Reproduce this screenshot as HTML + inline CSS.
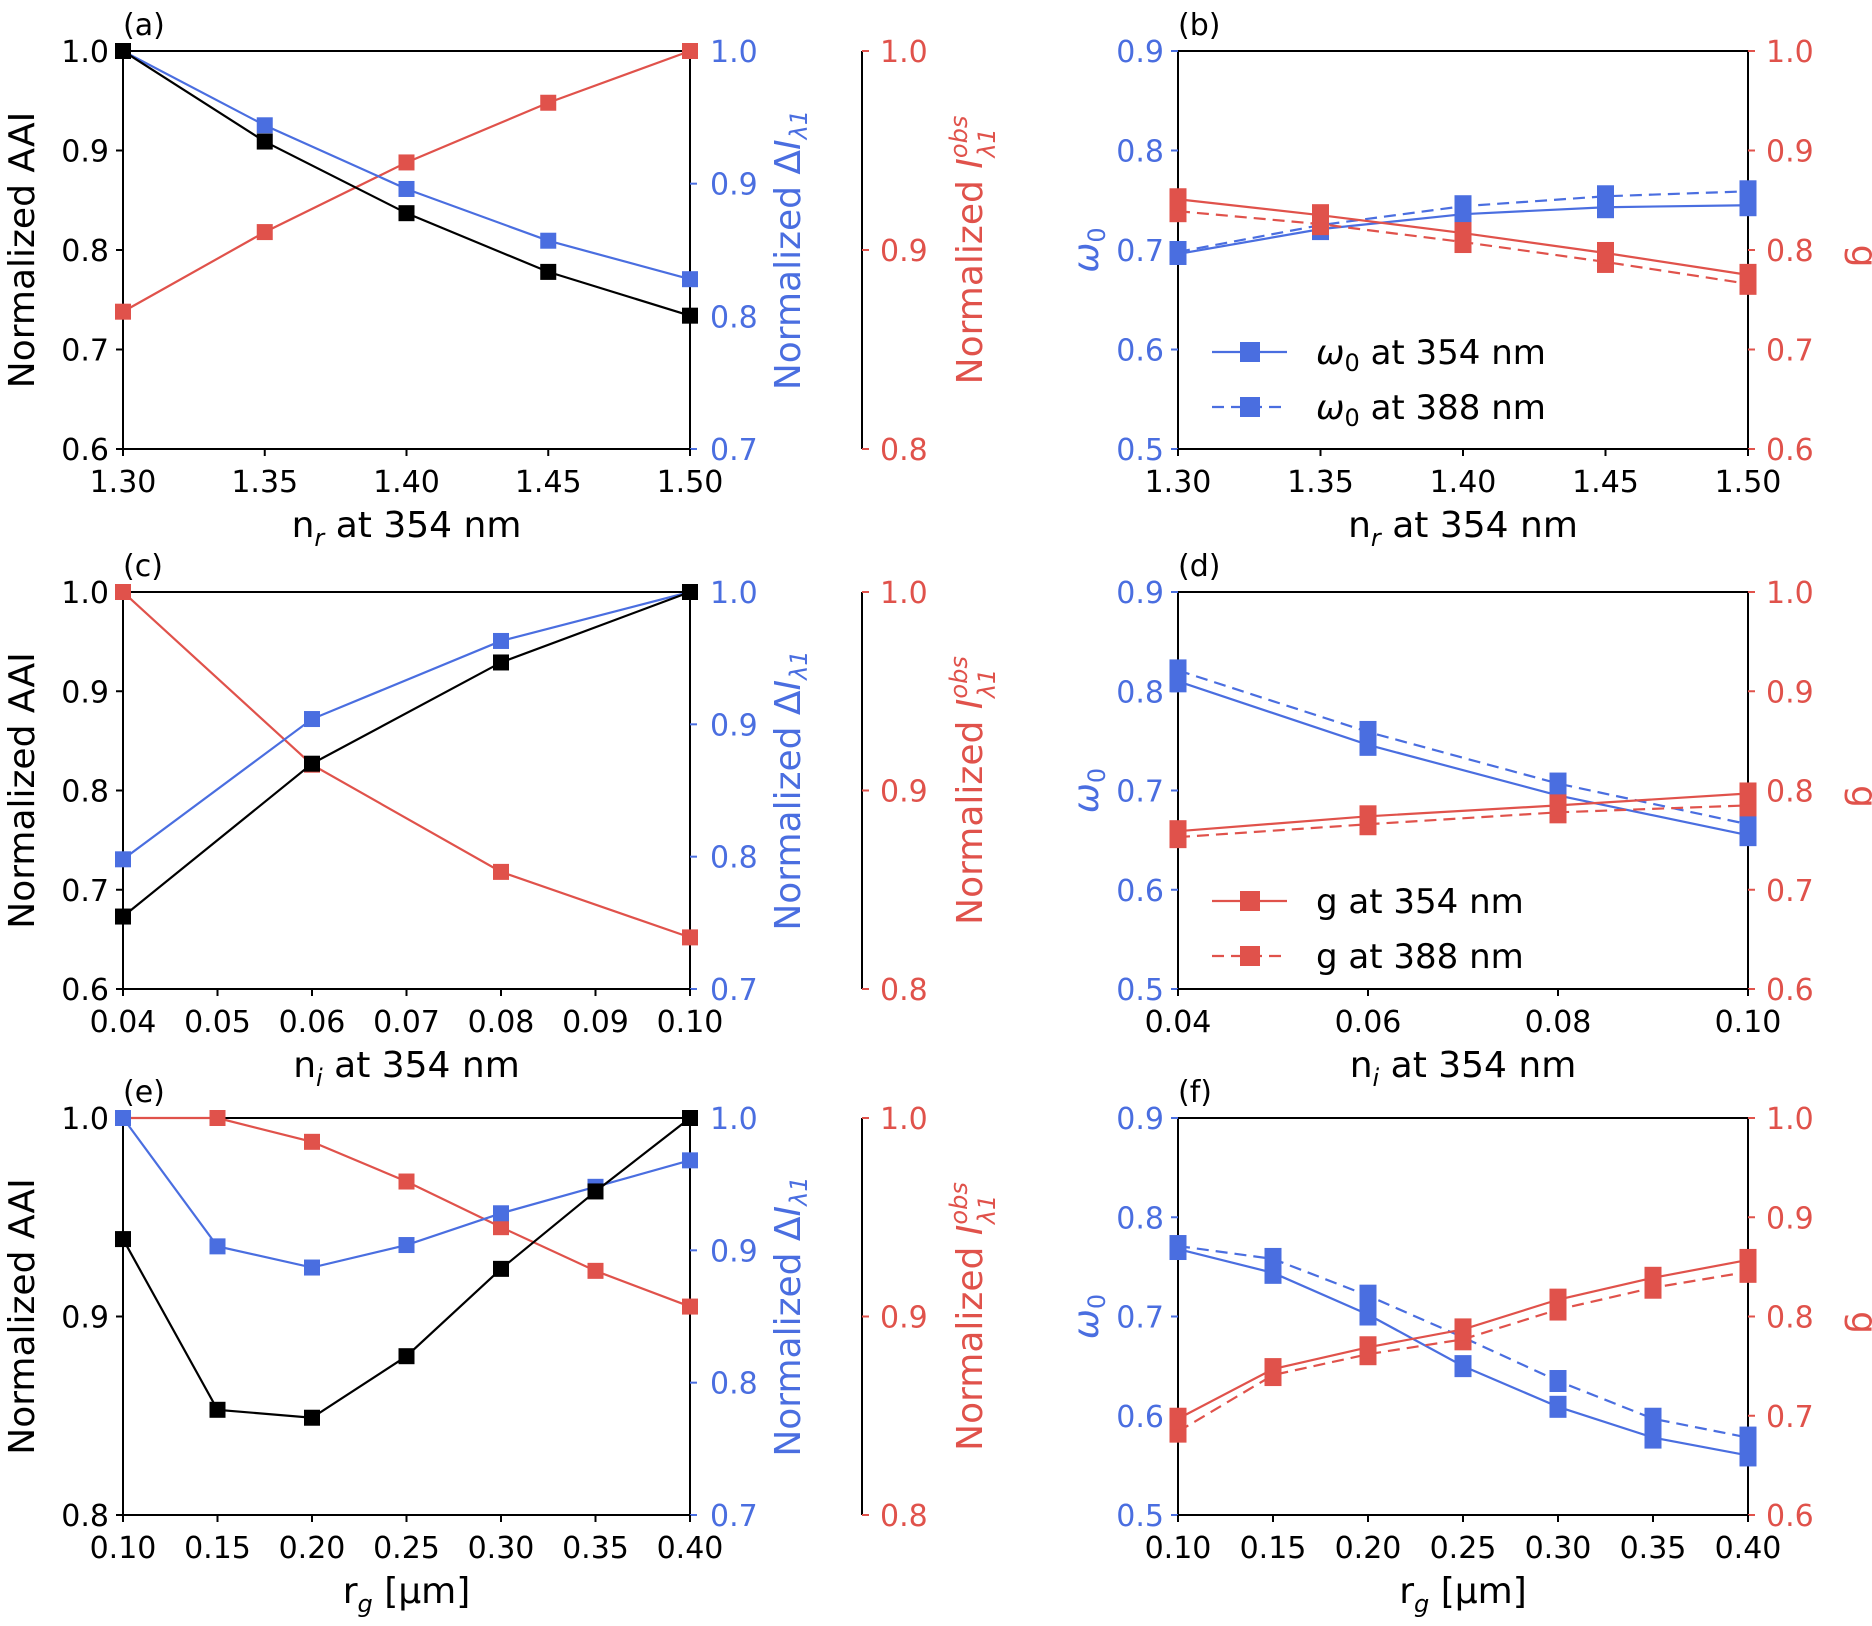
<!DOCTYPE html>
<html><head><meta charset="utf-8"><style>
html,body{margin:0;padding:0;background:#fff}
svg{display:block;font-family:"DejaVu Sans","Liberation Sans",sans-serif}
</style></head><body>
<svg id="fig" width="1872" height="1626" viewBox="0 0 1872 1626" xmlns="http://www.w3.org/2000/svg"></svg>
<script>
// ---- data ----
const xA = [1.30,1.35,1.40,1.45,1.50];
const aAAI = [1.0,0.909,0.837,0.778,0.734];
const aDI = [1.0,0.944,0.896,0.857,0.828];
const aIobs = [0.869,0.909,0.944,0.974,1.0];
const bW354 = [0.696,0.721,0.736,0.743,0.745];
const bW388 = [0.698,0.725,0.744,0.754,0.759];
const bG354 = [0.851,0.835,0.817,0.797,0.775];
const bG388 = [0.839,0.826,0.808,0.788,0.766];
const xC = [0.04,0.06,0.08,0.10];
const cAAI = [0.673,0.827,0.929,1.0];
const cDI = [0.798,0.904,0.963,1.0];
const cIobs = [1.0,0.913,0.859,0.826];
const dW354 = [0.810,0.746,0.695,0.655];
const dW388 = [0.821,0.759,0.707,0.666];
const dG354 = [0.759,0.774,0.785,0.797];
const dG388 = [0.753,0.766,0.778,0.785];
const xE = [0.10,0.15,0.20,0.25,0.30,0.35,0.40];
const eAAI = [0.939,0.853,0.849,0.880,0.924,0.963,1.0];
const eDI = [1.0,0.903,0.887,0.904,0.928,0.948,0.968];
const eIobs = [1.0,1.0,0.988,0.968,0.945,0.923,0.905];
const fW354 = [0.768,0.744,0.702,0.650,0.609,0.578,0.560];
const fW388 = [0.771,0.758,0.721,0.679,0.635,0.597,0.578];
const fG354 = [0.697,0.747,0.769,0.787,0.817,0.839,0.857];
const fG388 = [0.684,0.741,0.762,0.777,0.807,0.829,0.845];
const ticksAB = [1.30,1.35,1.40,1.45,1.50];
const ticksC = [0.04,0.05,0.06,0.07,0.08,0.09,0.10];
const ticksD = [0.04,0.06,0.08,0.10];
const ticksE = [0.10,0.15,0.20,0.25,0.30,0.35,0.40];

const BLUE="#4a6ee0", RED="#e0524b", NS="http://www.w3.org/2000/svg";
const TF=30, LF=36;
const svg=document.getElementById('fig');
function el(tag,attrs,parent){const e=document.createElementNS(NS,tag);for(const k in attrs)e.setAttribute(k,attrs[k]);(parent||svg).appendChild(e);return e;}
function txt(s,x,y,size,color,anchor,parent,name){const t=el('text',{x:x,y:y,'font-size':size,fill:color,'text-anchor':anchor||'start'},parent);t.textContent=s;

return t;}
function scale(d0,d1,r0,r1){return v=>r0+(v-d0)/(d1-d0)*(r1-r0);}
function fmt(v,dp){return v.toFixed(dp);}

function yTicks(g,ys,vals,x,dir,color,dp,labx,anchor){
  vals.forEach(v=>{const y=ys(v);
    el('line',{x1:x,x2:x+dir*7,y1:y,y2:y,stroke:color,'stroke-width':2},g);
    txt(fmt(v,dp),labx,y+11,TF,color,anchor,g,'y-tick-label');});
}
function series(g,xs,ys,X,Y,color,dash,mw,mh,name){
  const pts=X.map((x,i)=>[xs(x),ys(Y[i])]);
  const p=el('polyline',{points:pts.map(p=>p.join(',')).join(' '),fill:'none',stroke:color,'stroke-width':2.2},g);
  if(dash)p.setAttribute('stroke-dasharray','12,7');
  
  
  pts.forEach(q=>{const r=el('rect',{x:q[0]-mw/2,y:q[1]-mh/2,width:mw,height:mh,fill:color},g);
    
    });
}
function xAxis(g,xs,ticks,B,dp){
  ticks.forEach(v=>{const x=xs(v);el('line',{x1:x,x2:x,y1:B,y2:B+7,stroke:'#000','stroke-width':2},g);
    txt(fmt(v,dp),x,B+43,TF,'#000','middle',g,'x-tick-label');});
}
function xLabel(g,cx,y,main,sub,tail){
  const t=el('text',{x:cx,y:y,'font-size':LF,fill:'#000','text-anchor':'middle'},g);
  
  
  t.appendChild(document.createTextNode(main));
  const s=el('tspan',{'font-size':24,dy:9,'font-style':'italic'},t);s.textContent=sub;
  const r=el('tspan',{dy:-9},t);r.textContent=tail;
}
function rotLabel(g,x,y,color,parts){
  const t=el('text',{x:0,y:0,'font-size':LF,fill:color,'text-anchor':'middle',transform:`translate(${x},${y}) rotate(-90)`},g);
  
  
  parts.forEach(p=>{const s=el('tspan',p.a||{},t);s.textContent=p.t;});
  return t;
}

const rows=[[51,449],[592,989],[1118,1515]];
const L={l:123,r:690,red:862}, R={l:1178,r:1748};

function leftPanel(idx,letter,X,ticks,dp,AAI,DI,IO,aaiMin,aaiTicks,aaiDp,xl){
  const [T,B]=rows[idx];
  const g=el('g',{});
  
  
  const xs=scale(X[0],X[X.length-1],L.l,L.r);
  const ys1=scale(aaiMin,1.0,B,T), ys2=scale(0.7,1.0,B,T), ys3=scale(0.8,1.0,B,T);
  el('rect',{x:L.l,y:T,width:L.r-L.l,height:B-T,fill:'none',stroke:'#000','stroke-width':2},g);
  el('line',{x1:L.red,x2:L.red,y1:T,y2:B,stroke:'#000','stroke-width':2},g);
  yTicks(g,ys1,aaiTicks,L.l,-1,'#000',aaiDp,L.l-14,'end');
  yTicks(g,ys2,[0.7,0.8,0.9,1.0],L.r,1,BLUE,1,L.r+20,'start');
  yTicks(g,ys3,[0.8,0.9,1.0],L.red,1,RED,1,L.red+18,'start');
  xAxis(g,xs,ticks,B,dp);
  xLabel(g,(L.l+L.r)/2,B+88,xl[0],xl[1],xl[2]);
  txt('('+letter+')',L.l,T-16,TF,'#000','start',g,'panel-label');
  const cy=(T+B)/2;
  rotLabel(g,34,cy,'#000',[{t:'Normalized AAI'}]);
  rotLabel(g,800,cy,BLUE,[{t:'Normalized Δ'},{t:'I',a:{'font-style':'italic'}},{t:'λ1',a:{'font-size':24,dy:7,'font-style':'italic'}}]);
  rotLabel(g,982,cy,RED,[{t:'Normalized '},{t:'I',a:{'font-style':'italic'}},{t:'obs',a:{'font-size':24,dy:-15,'font-style':'italic'}},{t:'λ1',a:{'font-size':24,dx:-42,dy:28,'font-style':'italic'}}]);
  series(g,xs,ys3,X,IO,RED,false,16,16,'iobs');
  series(g,xs,ys2,X,DI,BLUE,false,16,16,'delta-i');
  series(g,xs,ys1,X,AAI,'#000',false,16,16,'aai');
}
function rightPanel(idx,letter,X,ticks,dp,W354,W388,G354,G388,xl,leg){
  const [T,B]=rows[idx];
  const g=el('g',{});
  
  
  const xs=scale(X[0],X[X.length-1],R.l,R.r);
  const yw=scale(0.5,0.9,B,T), yg=scale(0.6,1.0,B,T);
  el('rect',{x:R.l,y:T,width:R.r-R.l,height:B-T,fill:'none',stroke:'#000','stroke-width':2},g);
  yTicks(g,yw,[0.5,0.6,0.7,0.8,0.9],R.l,-1,BLUE,1,R.l-14,'end');
  yTicks(g,yg,[0.6,0.7,0.8,0.9,1.0],R.r,1,RED,1,R.r+18,'start');
  xAxis(g,xs,ticks,B,dp);
  xLabel(g,(R.l+R.r)/2,B+88,xl[0],xl[1],xl[2]);
  txt('('+letter+')',R.l,T-16,TF,'#000','start',g,'panel-label');
  const cy=(T+B)/2;
  rotLabel(g,1098,cy,BLUE,[{t:'ω',a:{'font-style':'italic'}},{t:'0',a:{'font-size':24,dy:7}}]);
  const gl=txt('g',1858,cy,LF,RED,'middle',g,'y-axis-title-g');gl.setAttribute('transform',`rotate(90,1852,${cy})`);
  series(g,xs,yw,X,W388,BLUE,true,17,22,'w0-388');
  series(g,xs,yw,X,W354,BLUE,false,17,22,'w0-354');
  series(g,xs,yg,X,G388,RED,true,17,22,'g-388');
  series(g,xs,yg,X,G354,RED,false,17,22,'g-354');
  if(!leg) return;
  const col=leg.color;
  [[0,false,'354'],[1,true,'388']].forEach(([i,dash,nm])=>{
    const y=leg.y+i*55;
    const ln=el('line',{x1:1212,x2:1287,y1:y,y2:y,stroke:col,'stroke-width':2.2},g);
    if(dash)ln.setAttribute('stroke-dasharray','12,7');
    el('rect',{x:1240,y:y-10,width:20,height:20,fill:col},g);
    const t=el('text',{x:1316,y:y+12,'font-size':34,fill:'#000'},g);
    
    
    if(leg.w){const a=el('tspan',{'font-style':'italic'},t);a.textContent='ω';const b=el('tspan',{'font-size':24,dy:7},t);b.textContent='0';const c=el('tspan',{dy:-7},t);c.textContent=' at '+nm+' nm';}
    else t.textContent='g at '+nm+' nm';
  });
}
leftPanel(0,'a',xA,ticksAB,2,aAAI,aDI,aIobs,0.6,[0.6,0.7,0.8,0.9,1.0],1,['n','r',' at 354 nm']);
rightPanel(0,'b',xA,ticksAB,2,bW354,bW388,bG354,bG388,['n','r',' at 354 nm'],{y:352,color:BLUE,w:true});
leftPanel(1,'c',xC,ticksC,2,cAAI,cDI,cIobs,0.6,[0.6,0.7,0.8,0.9,1.0],1,['n','i',' at 354 nm']);
rightPanel(1,'d',xC,ticksD,2,dW354,dW388,dG354,dG388,['n','i',' at 354 nm'],{y:901,color:RED,w:false});
leftPanel(2,'e',xE,ticksE,2,eAAI,eDI,eIobs,0.8,[0.8,0.9,1.0],1,['r','g',' [μm]']);
rightPanel(2,'f',xE,ticksE,2,fW354,fW388,fG354,fG388,['r','g',' [μm]'],null);
</script>
</body></html>
